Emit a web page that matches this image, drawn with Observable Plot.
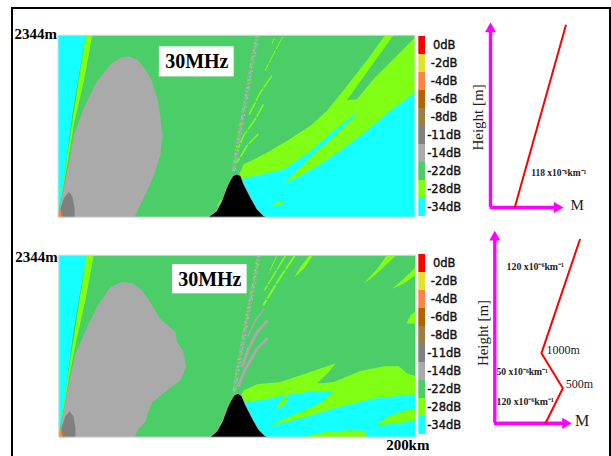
<!DOCTYPE html>
<html><head><meta charset="utf-8">
<script src="https://cdn.jsdelivr.net/npm/d3@7"></script>
<script src="https://cdn.jsdelivr.net/npm/@observablehq/plot@0.6"></script>
<style>
html,body{margin:0;padding:0;background:#fff;width:611px;height:456px;overflow:hidden}
#page{position:relative;width:611px;height:456px}
#border{position:absolute;left:11px;top:7px;width:600px;height:449px;box-sizing:border-box;border:2px solid #000;border-bottom:none}
#page svg{position:absolute;overflow:visible;background:transparent}
</style></head><body>
<div id="page"><div id="border"></div></div>
<script>
// ---- dB legend
const levels=["0dB","-2dB","-4dB","-6dB","-8dB","-11dB","-14dB","-22dB","-28dB","-34dB"];
const levelColors=["#ff0000","#e2e22c","#ff8247","#b36200","#9a7f42","#808080","#aaaaaa","#4bcd68","#80ff14","#14ffff"];
const RED="#ff0000",ORANGE="#ff8247",TAN="#9a7f42",DGRAY="#808080",GRAY="#aaaaaa",GREEN="#4bcd68",LIME="#80ff14",CYAN="#14ffff",MAGENTA="#ff00ff";

// ---- Upper field (km, m)
const a_lime=[[0.7,120],[15.5,2344],[19.2,2344],[14.5,1755],[9.3,1239],[6.2,809],[1.9,250]];
const a_cyanWedge=[[0,0],[0,2344],[15.5,2344],[8,1325],[3.4,508],[0.7,120]];
const a_grayLobe=[[1.1,120],[6.2,723],[9,1067],[14.5,1411],[22,1756],[29.5,1971],[35.1,2057],[39.7,2070],[44.4,2035],[48.1,1928],[51.8,1799],[55.6,1540],[57.4,1282],[58.6,1046],[57.4,809],[54.6,594],[50,336],[45.3,120],[42.9,0],[0.5,0]];
const a_darkLobe=[[1.1,0],[1.5,120],[3.4,250],[6.2,327],[8,271],[9.3,120],[9.3,0]];
const a_tan=[[1,0],[1.6,110],[3.2,60],[3.6,0]];
const a_orange=[[0,0],[0,60],[1.5,90],[2.2,0]];
const a_limeBand=[[101.1,529],[103.9,680],[117,830],[128.2,981],[141.2,1175],[150.6,1368],[161.8,1691],[172.9,2014],[183.2,2344],[200,2344],[200,0],[116,0],[102.1,486]];
const a_wedge=[[161.8,1506],[187.9,2344],[200,2344],[200,2315],[176.7,1777],[167.4,1519]];
const a_cyan=[[102.1,486],[111.4,538],[126.3,615],[141.2,843],[154.3,1110],[167.4,1347],[165.9,1291],[154.3,1033],[143.1,809],[126.3,430],[135.6,529],[146.8,680],[158,852],[172.9,1110],[186,1368],[200,1605],[200,0],[116,0],[108.6,99],[103.9,400]];
const a_patches=[
  [[119.4,151],[123.5,198],[127.8,215],[126.3,181],[121.7,142]],
  [[89,142],[91.3,228],[92.4,207],[90.1,142]]
];
const a_noisy=[[111.8,2344],[108.6,1971],[105.8,1584],[103,1239],[100.2,852],[98.4,572]];
const a_streaks=[
  {w:1,pts:[[125.9,2324],[121.7,2143],[116,1885]]},
  {w:1,pts:[[121.1,2306],[120,2238]]},
  {w:1.5,pts:[[119.8,1820],[113.3,1605],[106.7,1304]]},
  {w:1.5,pts:[[115.1,1454],[110.5,1261],[103.9,1046],[101.1,895]]},
  {w:1.5,pts:[[112.3,1076],[105.8,917],[100.2,701]]}
];
const a_ridge=[[84.4,0],[89,77],[91.9,206],[94.7,378],[96.5,465],[98.2,529],[100.2,551],[102.1,529],[103.9,422],[107.7,249],[111.4,99],[115.1,13],[116.5,0]];

// ---- Lower field (km, m)
const b_lime=[[0.7,133],[15.5,2344],[19.6,2344],[14.9,1763],[9.9,1248],[6.2,819],[1.9,262]];
const b_cyanWedge=[[0,0],[0,2344],[15.5,2344],[8,1334],[3.4,519],[0.7,133]];
const b_grayLobe=[[0.9,112],[5.6,691],[9.3,1077],[15.9,1420],[22.4,1720],[28.9,1935],[35.4,2000],[41,1986],[45.7,1913],[49.4,1806],[56.9,1527],[65.3,1356],[66.2,1227],[69.6,1120],[71.3,905],[68.1,734],[60.7,605],[52.3,446],[50.4,347],[48.5,197],[44.8,112],[42.4,0],[0.5,0]];
const b_darkLobe=[[1.1,0],[1.5,120],[3.7,270],[6,330],[8.2,270],[9.3,120],[9.3,0]];
const b_limeMain=[[101.4,519],[103.7,605],[111.1,682],[124.2,712],[135.4,798],[146.6,884],[155,948],[151.3,841],[144.7,691],[154.1,712],[169,854],[182.1,914],[190.5,914],[195.2,819],[200,785],[200,0],[116.4,0],[108.9,99],[104.2,399]];
const b_cyan=[[102.4,528],[103.7,455],[113,476],[127,541],[142.9,596],[153.1,583],[163.4,511],[176.5,519],[200,553],[200,0],[116.4,0],[108.9,99],[104.2,399]];
const b_patches=[
  [[117.7,142],[127.9,253],[139.1,356],[147.5,455],[153.1,571],[159.7,583],[176.5,553],[200,583],[200,553],[176.5,498],[154.1,369],[135.4,240]],
  [[122,360],[123.8,455],[127.6,532],[128.3,476],[126.1,412]],
  [[178,154],[184,262],[193.3,339],[200,369],[200,219],[189.6,176]],
  [[135.4,0],[148.5,64],[163.4,90],[171.8,82],[172.4,0]],
  [[170.9,1978],[178.4,2171],[183.6,2338],[188.6,2338],[180.2,2149],[174.6,2042]],
  [[186.8,1913],[193.3,2042],[200,2192],[200,2085],[193.3,1978]],
  [[194.8,1463],[197,1570],[200,1626],[200,1463]],
  [[140.3,2338],[135.4,2192],[131.7,2055],[137.3,2171],[142.3,2338]],
  [[89.7,142],[92.5,240],[93.6,219],[91,142]]
];
const b_noisy=[[112.1,2344],[109.3,1978],[105.9,1592],[102.7,1163],[99.9,819],[98.1,562]];
const b_streaks=[
  {w:2,pts:[[132.2,2338],[124.2,2064],[114.5,1699]]},
  {w:1.5,pts:[[127,2338],[121.4,2128],[115.2,1892]]},
  {w:1,pts:[[122,2330],[117.7,2115]]}
];
const b_grayStreaks=[
  {w:1.5,pts:[[114.9,1656],[110.2,1506],[105.9,1300]]},
  {w:3,pts:[[117.1,1506],[111.1,1356],[105.9,1120],[102.7,905]]},
  {w:3,pts:[[117.1,1278],[111.1,1141],[104.6,884],[100.3,648]]}
];
const b_ridge=[[85,0],[88.8,77],[91.9,206],[94.7,378],[96.5,465],[98.5,540],[100.5,558],[102.4,528],[104.2,422],[108,249],[111.7,99],[115.4,13],[116.8,0]];

// ---- M profiles
const profileA=[{M:131,h:0},{M:407,h:2344}];
const profileB=[{M:176,h:0},{M:236,h:500},{M:162,h:1000},{M:295,h:2620}];

const poly=(pts,fill)=>Plot.line(pts,{x:d=>d[0],y:d=>d[1],fill,stroke:"none"});
const stroke=(pts,color,w,extra={})=>Plot.line(pts,{x:d=>d[0],y:d=>d[1],stroke:color,strokeWidth:w,strokeLinecap:"butt",...extra});
const SERIF="Liberation Serif";

function noisy(pts){return [
  stroke(pts,GRAY,1.4,{strokeDasharray:"2 1.5",dx:-1.5}),
  stroke(pts,GRAY,1.6,{strokeDasharray:"3 1"}),
  stroke(pts,GRAY,1.4,{strokeDasharray:"1.5 2.5",dx:1.5}),
  stroke(pts,LIME,1.2,{strokeDasharray:"1.5 6",dx:-1}),
  stroke(pts,LIME,1.2,{strokeDasharray:"1 8",dx:1.5}),
  stroke(pts,CYAN,1,{strokeDasharray:"1.5 9",dx:0.5})
];}

function place(svg,left,top){svg.style.left=left+"px";svg.style.top=top+"px";document.getElementById("page").appendChild(svg);}

function field(marks,opts){
  return Plot.plot({width:opts.marginLeft+357+8,height:opts.marginTop+182+opts.marginBottom,
    marginLeft:opts.marginLeft,marginRight:8,marginTop:opts.marginTop,marginBottom:opts.marginBottom,
    x:{domain:[0,200]},y:{domain:[0,2344]},
    style:{background:"transparent"},
    marks:[
      Plot.frame({fill:GREEN,stroke:"none"}),
      ...marks,
      Plot.frame({stroke:"#dcdcdc"}),
      Plot.axisY({ticks:[2344],tickSize:0,tickPadding:1,tickFormat:d=>d+"m",label:null,fontSize:15,fontWeight:"bold",fontFamily:SERIF,fill:"#000",dy:opts.labelDy}),
      opts.xLabel?Plot.axisX({ticks:[200],tickSize:0,tickPadding:2,tickFormat:d=>d+"km",label:null,fontSize:15,fontWeight:"bold",fontFamily:SERIF,fill:"#000",dx:-8}):Plot.axisX({ticks:[],label:null})
    ]});
}
function titleBox(x1,x2,y1,y2){return [
  Plot.rect([0],{x1,x2,y1,y2,fill:"#fff"}),
  Plot.text(["30MHz"],{x:(x1+x2)/2,y:(y1+y2)/2,fontSize:20,fontWeight:"bold",fontFamily:SERIF,fill:"#000"})
];}

const marksA=[
  poly(a_lime,LIME),poly(a_cyanWedge,CYAN),
  poly(a_grayLobe,GRAY),poly(a_darkLobe,DGRAY),poly(a_tan,TAN),poly(a_orange,ORANGE),
  poly(a_limeBand,LIME),poly(a_wedge,GREEN),poly(a_cyan,CYAN),
  ...a_patches.map(p=>poly(p,LIME)),
  ...noisy(a_noisy),
  ...a_streaks.map(s=>stroke(s.pts,LIME,s.w,{strokeDasharray:"14 1.5"})),
  stroke(a_ridge,GRAY,1.5),
  poly(a_ridge,"#000"),
  ...titleBox(56.8,98.7,1807,2195)
];
const marksB=[
  poly(b_lime,LIME),poly(b_cyanWedge,CYAN),
  poly(b_grayLobe,GRAY),poly(b_darkLobe,DGRAY),poly(a_tan,TAN),poly(a_orange,ORANGE),
  poly(b_limeMain,LIME),poly(b_cyan,CYAN),
  ...b_patches.map(p=>poly(p,LIME)),
  ...noisy(b_noisy),
  ...b_streaks.map(s=>stroke(s.pts,LIME,s.w,{strokeDasharray:"16 1.5"})),
  ...b_grayStreaks.map(s=>stroke(s.pts,GRAY,s.w)),
  stroke(b_ridge,GRAY,1.5),
  poly(b_ridge,"#000"),
  ...titleBox(63.7,105.5,1847,2224)
];
place(field(marksA,{marginLeft:57.5,marginTop:20.7,marginBottom:8,labelDy:-1.5}),0,14);
place(field(marksB,{marginLeft:58.3,marginTop:20.7,marginBottom:22,labelDy:2,xLabel:true}),0,234);

function legend(){
  const table=levels.map((l,i)=>({l,c:levelColors[i]}));
  return Plot.plot({width:70,height:192,margin:0,
    x:{domain:[0,1],range:[8.3,15],axis:null},
    y:{domain:levels,range:[6,186.7],padding:0,axis:null},
    color:{type:"identity"},
    marks:[
      Plot.barX(table,{x1:0,x2:1,y:"l",fill:"c",inset:0}),
      Plot.text(table,{x:0.5,y:"l",text:"l",dx:22,fontSize:11.5,fontFamily:"DejaVu Sans",fill:"#111",stroke:"#111",strokeWidth:0.4})
    ]});
}
place(legend(),410,30);
place(legend(),410,248);

function profile(o){
  return Plot.plot({width:141,height:o.height,margin:0,
    x:{domain:[0,o.mMax],range:o.xr,axis:null},
    y:{domain:[0,o.hMax],range:o.yr,axis:null},
    marks:[
      Plot.ruleX([0],{y1:0,y2:o.hMax*0.96,stroke:MAGENTA,strokeWidth:3.4}),
      Plot.ruleY([0],{x1:-0.3*o.mMax/70,x2:o.mMax*0.92,stroke:MAGENTA,strokeWidth:3.4}),
      Plot.dot([0],{x:0,y:o.hMax*0.965,symbol:"triangle",r:4.1,fill:MAGENTA,stroke:"none"}),
      Plot.dot([0],{x:o.mMax*0.9,y:0,symbol:"triangle",r:4.1,rotate:90,fill:MAGENTA,stroke:"none"}),
      Plot.line(o.data,{x:"M",y:"h",stroke:RED,strokeWidth:2,strokeLinejoin:"miter"}),
      Plot.text(["Height [m]"],{x:o.hx,y:o.hy,rotate:-90,fontSize:15,fontFamily:SERIF,fill:"#222"}),
      Plot.text(["M"],{x:o.Mx,y:o.My,fontSize:o.Ms,fontFamily:SERIF,fill:"#222"}),
      ...o.notes.map(n=>Plot.text([n.t],{x:n.x,y:n.y,textAnchor:"start",fontSize:n.s,fontWeight:n.b?"bold":"normal",fontFamily:SERIF,fill:"#222"}))
    ]});
}
place(profile({height:240,mMax:400,hMax:2382,xr:[20,94],yr:[207,22],data:profileA,hx:-65,hy:1159,Mx:469,My:26,Ms:15,
  notes:[{t:"118 x10⁻⁶km⁻¹",x:220,y:442,s:9.5,b:true}]}),470,0);
place(profile({height:215,mMax:272,hMax:2752,xr:[24.3,102.7],yr:[197.7,5],data:profileB,hx:-42,hy:1288,Mx:303,My:39,Ms:16,
  notes:[
    {t:"120 x10⁻⁶km⁻¹",x:41,y:2228,s:9.8,b:true},
    {t:"50 x10⁻⁶km⁻¹",x:6,y:728,s:9.6,b:true},
    {t:"120 x10⁻⁶km⁻¹",x:6,y:310,s:9.8,b:true},
    {t:"1000m",x:179,y:1038,s:12,b:false},
    {t:"500m",x:246,y:563,s:12,b:false}
  ]}),470,225);
</script>
</body></html>
